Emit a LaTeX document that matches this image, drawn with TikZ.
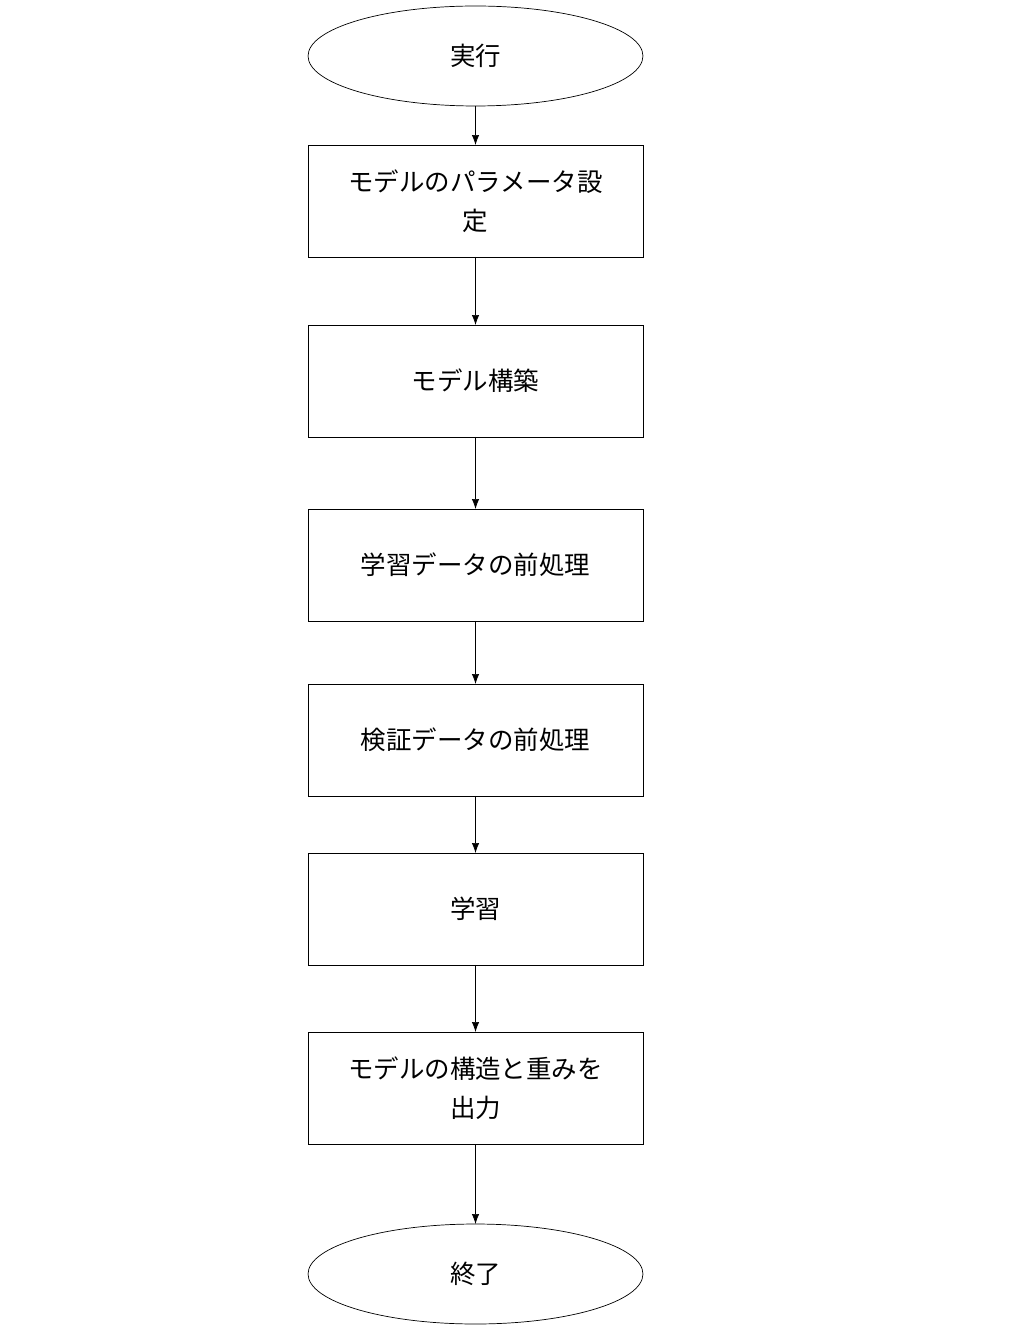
\documentclass[tikz,border=0pt]{standalone}
\usepackage{fontspec}
\newfontfamily\jpfont{Noto Sans CJK JP}
\usetikzlibrary{positioning,shapes.geometric,arrows.meta}
\begin{document}
\begin{tikzpicture}[x=0.02cm,y=-0.02cm,
		every node/.style={outer sep=0pt,font=\jpfont\fontsize{14.5}{22}\selectfont,align=center},
		proc/.style={draw,thin,minimum width=6.7cm,minimum height=2.24cm,inner sep=0pt},
		term/.style={draw,thin,ellipse,minimum width=6.7cm,minimum height=2cm,inner sep=0pt},
		flow/.style={thin,-{Latex[length=2mm,width=1.5mm]}},
		]
		\useasboundingbox (0,0) rectangle (1008,1344);
		\node[term] (run) at (475.5,56) {実行};
		\node[proc] (param) at (475.5,201) {モデルのパラメータ設\\定};
		\node[proc] (build) at (475.5,381) {モデル構築};
		\node[proc] (train) at (475.5,565) {学習データの前処理};
		\node[proc] (valid) at (475.5,740) {検証データの前処理};
		\node[proc] (learn) at (475.5,909) {学習};
		\node[proc] (out) at (475.5,1088) {モデルの構造と重みを\\出力};
		\node[term] (end) at (475.5,1274) {終了};

		\draw[flow] (run) -- (param);
		\draw[flow] (param) -- (build);
		\draw[flow] (build) -- (train);
		\draw[flow] (train) -- (valid);
		\draw[flow] (valid) -- (learn);
		\draw[flow] (learn) -- (out);
		\draw[flow] (out) -- (end);
\end{tikzpicture}
\end{document}
